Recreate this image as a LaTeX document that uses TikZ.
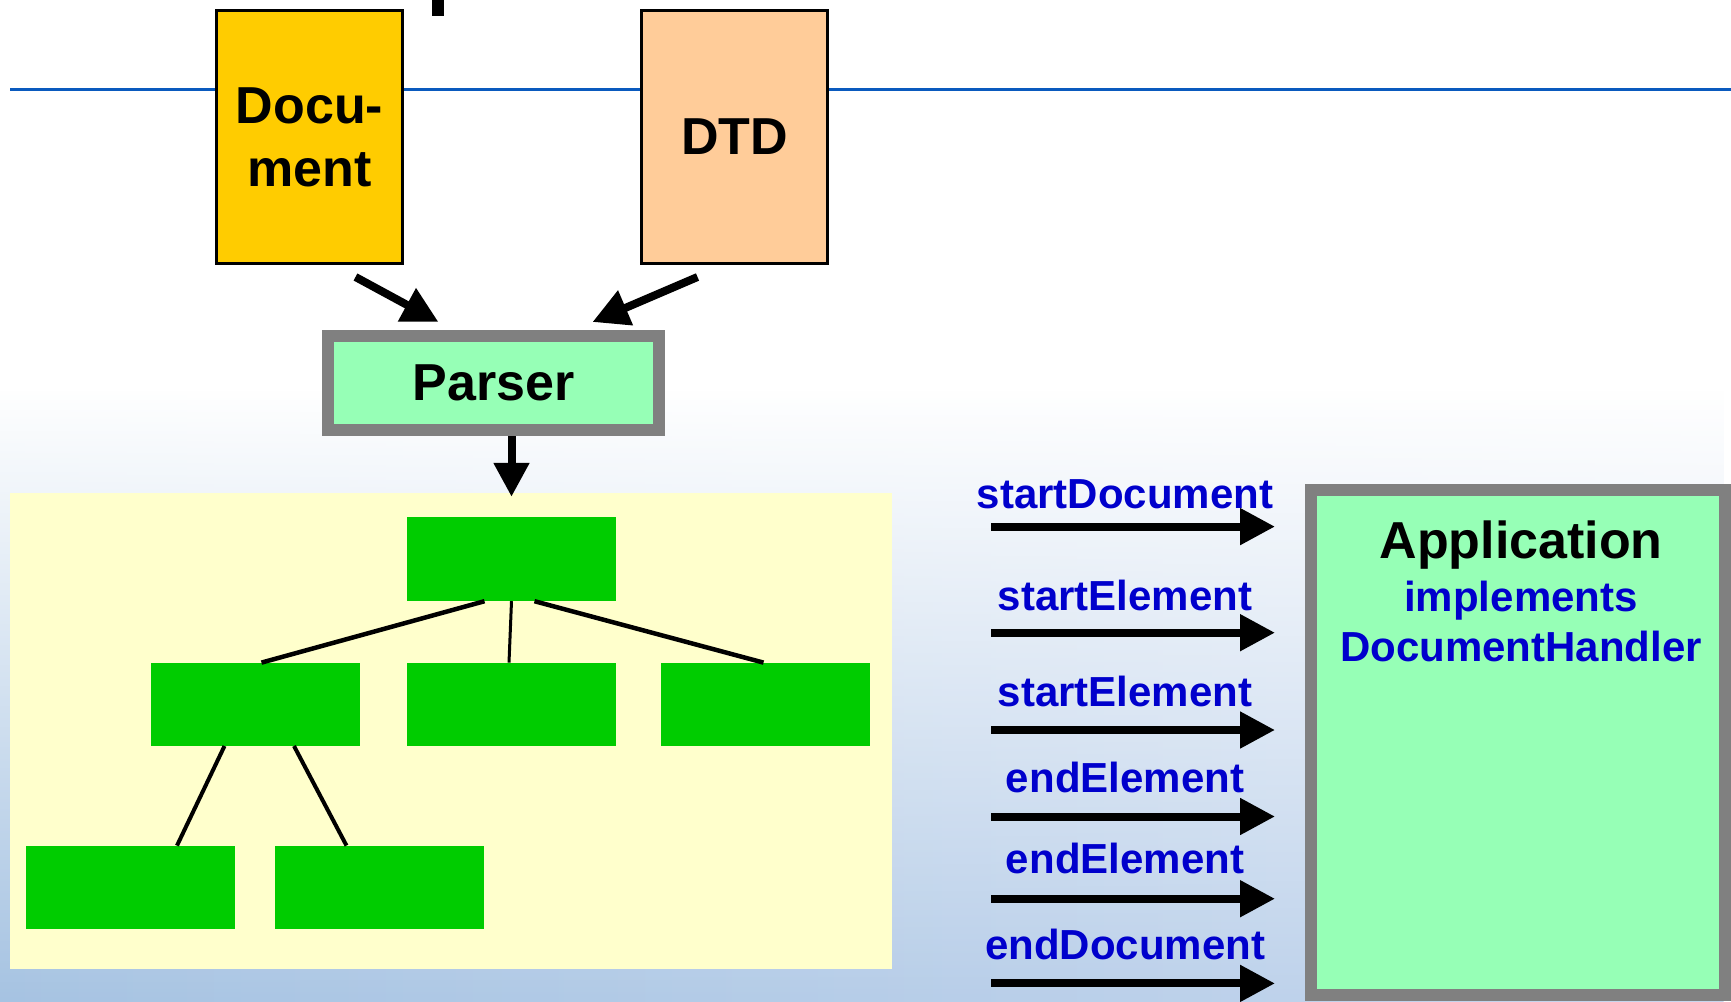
\documentclass[tikz,border=0pt]{standalone}
\usepackage{fontspec}
\setmainfont{Liberation Sans}
\usetikzlibrary{arrows.meta,calc,fadings}

\definecolor{docfill}{HTML}{FFCC00}
\definecolor{dtdfill}{HTML}{FFCC99}
\definecolor{mint}{HTML}{96FFB6}
\definecolor{framegray}{HTML}{808080}
\definecolor{treegreen}{HTML}{00CC00}
\definecolor{panelyellow}{HTML}{FFFFCC}
\definecolor{rulecolor}{RGB}{10,90,190}
\definecolor{callblue}{RGB}{0,0,204}
\definecolor{skyleft}{HTML}{A6C3E2}
\definecolor{skymid}{HTML}{BCD0EA}
\definecolor{skyright}{HTML}{C6D7EE}

\begin{document}
\begin{tikzpicture}[x=1pt,y=-1pt,
  bigtext/.style={font=\fontsize{52}{63}\selectfont\bfseries},
  srcbox/.style={draw=black,line width=3pt,minimum width=186pt,minimum height=253pt,
    inner sep=0pt,align=center,bigtext},
  mintbox/.style={draw=framegray,fill=mint,line width=12pt,inner sep=0pt},
  treebox/.style={fill=treegreen,inner sep=0pt,minimum width=209pt,minimum height=84pt},
  treeline/.style={line width=4.5pt},
  callname/.style={font=\fontsize{42}{50}\selectfont\bfseries,text=callblue,anchor=base,inner sep=0pt},
  fatarrow/.style={line width=8pt,-{Triangle[length=35pt,width=35pt]}},
]
\useasboundingbox (0,0) rectangle (1731,1001);

% page background: white, turning light blue towards the bottom (darker on the left)
\fill[white] (0,0) rectangle (1731,1001);
\shade[left color=skyleft,middle color=skymid,right color=skyright,path fading=north]
  (0,390) rectangle (1731,1001);

% remnant of the heading above the rule
\fill[black] (432,0) rectangle (444,16);

% horizontal rule
\draw[rulecolor,line width=3pt] (10,89) -- (1731,89);

% inputs
\node[srcbox,fill=docfill] (doc) at (309.5,137) {Docu-\\ment};
\node[srcbox,fill=dtdfill] (dtd) at (734.5,137) {DTD};

% parser
\node[mintbox,minimum width=331pt,minimum height=94pt,bigtext] (parser) at (493.5,383) {Parser};

\draw[line width=8pt,-{Triangle[length=36pt,width=36pt]}]
  ($(doc.south)+(46,12)$) -- ($(parser.north)+(-55,-8)$);
\draw[line width=8pt,-{Triangle[length=36pt,width=36pt]}]
  ($(dtd.south)+(-37,12)$) -- ($(parser.north)+(99,-8)$);

% document tree panel
\node[fill=panelyellow,inner sep=0pt,minimum width=881.5pt,minimum height=476pt] (panel) at (450.75,731) {};

\node[treebox] (root) at (511.5,559) {};
\node[treebox,minimum height=83pt] (ml) at (255.5,704.3) {};
\node[treebox,minimum height=83pt] (mm) at (511.5,704.3) {};
\node[treebox,minimum height=83pt] (mr) at (765.5,704.3) {};
\node[treebox,minimum height=83pt] (bl) at (130.5,887.3) {};
\node[treebox,minimum height=83pt] (br) at (379.5,887.3) {};

\draw[line width=8pt,-{Triangle[length=34pt,width=34pt]}]
  (parser.south -| root.north) -- ($(root.north)+(0,-20)$);

\draw[treeline] ($(root.south)+(-27,0)$) -- ($(ml.north)+(6,0)$);
\draw[line width=3pt] (root.south) -- ($(mm.north)+(-2.5,0)$);
\draw[treeline] ($(root.south)+(23,0)$) -- ($(mr.north)+(-2,0)$);
\draw[line width=4pt] ($(ml.south)+(-31,0)$) -- ($(bl.north)+(46.5,0)$);
\draw[line width=4pt] ($(ml.south)+(38.5,0)$) -- ($(br.north)+(-33,0)$);

% application receiving the events
\node[mintbox,minimum width=414pt,minimum height=505pt] (app) at (1518,742.5) {};
\node[anchor=base,inner sep=0pt,font=\fontsize{52}{60}\selectfont\bfseries] (apptitle) at (1521,558) {Application};
\node[callname] (appimpl) at (1521,611) {implements};
\node[callname] (apphandler) at (1521,661) {DocumentHandler};

% event calls
\node[callname] (c1) at (1125,508) {startDocument};
\node[callname] (c2) at (1125,610) {startElement};
\node[callname] (c3) at (1125,706.5) {startElement};
\node[callname] (c4) at (1125,792.5) {endElement};
\node[callname] (c5) at (1125,873.5) {endElement};
\node[callname] (c6) at (1125,959.5) {endDocument};

\foreach \i/\yy in {1/526.6,2/632.7,3/730,4/816.5,5/898.7,6/983.4}{
  \coordinate (s\i) at (991,\yy);
  \coordinate (t\i) at (1275,\yy);
  \draw[fatarrow] (s\i) -- (t\i);
}
\end{tikzpicture}
\end{document}
